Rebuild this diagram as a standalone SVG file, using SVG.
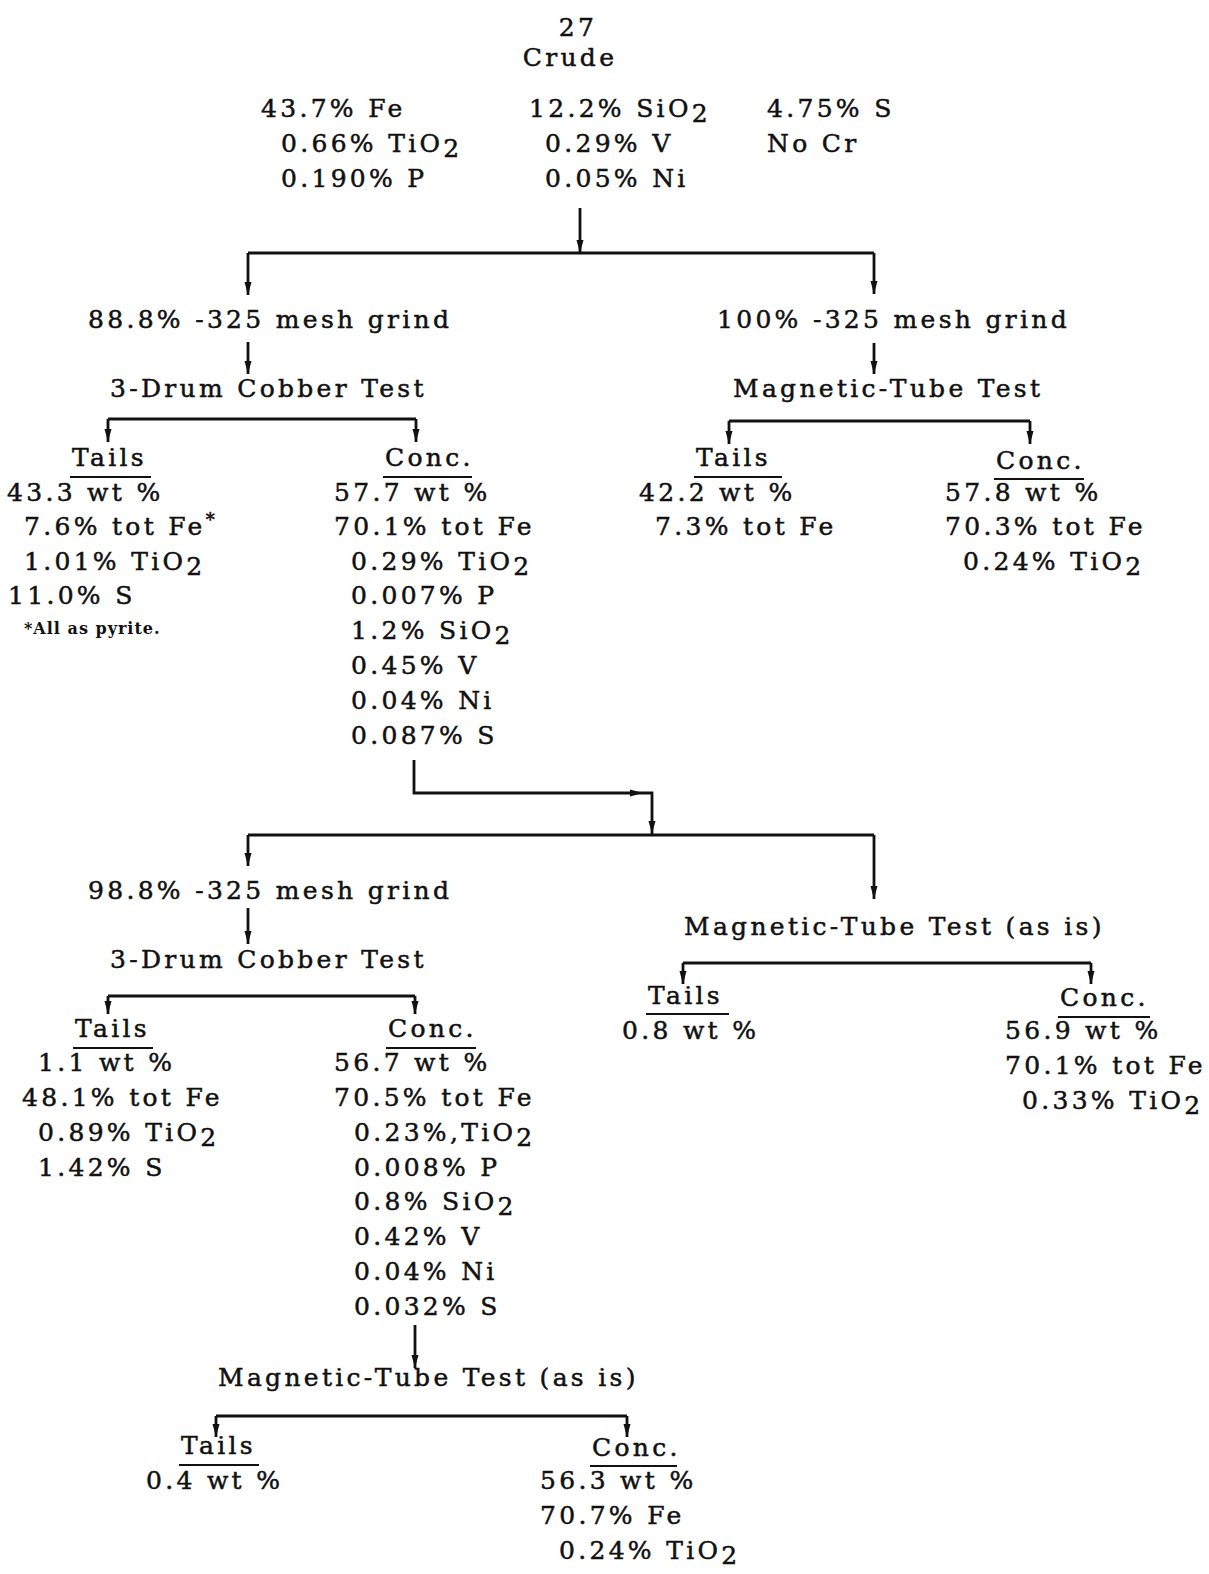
<svg xmlns="http://www.w3.org/2000/svg" width="1209" height="1574" viewBox="0 0 1209 1574">
<defs>
<marker id="ah" viewBox="0 -4 13 8" refX="13" refY="0" markerWidth="13" markerHeight="8" markerUnits="userSpaceOnUse" orient="auto">
<path d="M0,-3.5 L13,0 L0,3.5 z" fill="#111"/>
</marker>
<style>
.t{font-family:"DejaVu Serif","Liberation Serif",serif;font-size:25px;letter-spacing:3.3px;fill:#111;stroke:#111;stroke-width:0.5px}
.s{font-family:"DejaVu Serif","Liberation Serif",serif;font-size:16px;font-weight:bold;letter-spacing:1px;fill:#111}
.c{fill:none;stroke:#111;stroke-width:2.8}
.a{fill:none;stroke:#111;stroke-width:2.8;marker-end:url(#ah)}
.u{stroke:#111;stroke-width:2.2}
</style>
</defs>
<rect width="1209" height="1574" fill="#fff"/>

<g id="connectors">
<path class="a" d="M580,208 V253"/>
<path class="c" d="M248,253 H874"/>
<path class="a" d="M248,253 V295"/>
<path class="a" d="M874,253 V294"/>
<path class="a" d="M248,342 V374"/>
<path class="a" d="M874,343 V374"/>
<path class="c" d="M108,419 H416"/>
<path class="a" d="M108,419 V442"/>
<path class="a" d="M416,419 V442"/>
<path class="c" d="M729,421 H1030"/>
<path class="a" d="M729,421 V444"/>
<path class="a" d="M1030,421 V444"/>
<path class="a" d="M414,760 V793 H643"/>
<path class="a" d="M643,793 H652 V834"/>
<path class="c" d="M248,835 H874"/>
<path class="a" d="M248,835 V866"/>
<path class="a" d="M874,835 V899"/>
<path class="a" d="M248,908 V944"/>
<path class="c" d="M108,996 H415"/>
<path class="a" d="M108,996 V1014"/>
<path class="a" d="M415,996 V1014"/>
<path class="c" d="M683,963 H1091"/>
<path class="a" d="M683,963 V984"/>
<path class="a" d="M1091,963 V984"/>
<path class="a" d="M415,1325 V1368"/>
<path class="c" d="M216,1416 H627"/>
<path class="a" d="M216,1416 V1437"/>
<path class="a" d="M627,1416 V1437"/>
</g>

<g id="page-number"><text class="t" x="578" y="36" text-anchor="middle">27</text></g>

<g id="crude">
<text class="t" x="570" y="66" text-anchor="middle">Crude</text>
<text class="t" x="261" y="117">43.7% Fe</text>
<text class="t" x="281" y="152">0.66% TiO<tspan dy="5">2</tspan></text>
<text class="t" x="281" y="187">0.190% P</text>
<text class="t" x="529" y="117">12.2% SiO<tspan dy="5">2</tspan></text>
<text class="t" x="545" y="152">0.29% V</text>
<text class="t" x="545" y="187">0.05% Ni</text>
<text class="t" x="767" y="117">4.75% S</text>
<text class="t" x="767" y="152">No Cr</text>
</g>

<g id="grind1"><text class="t" x="88" y="328">88.8% -325 mesh grind</text></g>
<g id="grind2"><text class="t" x="717" y="328">100% -325 mesh grind</text></g>
<g id="cobber1"><text class="t" x="110" y="397">3-Drum Cobber Test</text></g>
<g id="magtube1"><text class="t" x="733" y="397">Magnetic-Tube Test</text></g>

<g id="tails1">
<text class="t" x="72" y="466">Tails</text>
<line class="u" x1="70" y1="477" x2="151" y2="477"/>
<text class="t" x="7" y="501">43.3 wt %</text>
<text class="t" x="24" y="535">7.6% tot Fe<tspan dy="-9" font-size="18">*</tspan></text>
<text class="t" x="24" y="570">1.01% TiO<tspan dy="5">2</tspan></text>
<text class="t" x="8" y="604">11.0% S</text>
<text class="s" x="24" y="634">*All as pyrite.</text>
</g>

<g id="conc1">
<text class="t" x="385" y="466">Conc.</text>
<line class="u" x1="383" y1="477" x2="472" y2="477"/>
<text class="t" x="334" y="501">57.7 wt %</text>
<text class="t" x="334" y="535">70.1% tot Fe</text>
<text class="t" x="351" y="570">0.29% TiO<tspan dy="5">2</tspan></text>
<text class="t" x="351" y="604">0.007% P</text>
<text class="t" x="351" y="639">1.2% SiO<tspan dy="5">2</tspan></text>
<text class="t" x="351" y="674">0.45% V</text>
<text class="t" x="351" y="709">0.04% Ni</text>
<text class="t" x="351" y="744">0.087% S</text>
</g>

<g id="tails2">
<text class="t" x="696" y="466">Tails</text>
<line class="u" x1="694" y1="477" x2="782" y2="477"/>
<text class="t" x="639" y="501">42.2 wt %</text>
<text class="t" x="655" y="535">7.3% tot Fe</text>
</g>

<g id="conc2">
<text class="t" x="996" y="469">Conc.</text>
<line class="u" x1="994" y1="479" x2="1084" y2="479"/>
<text class="t" x="945" y="501">57.8 wt %</text>
<text class="t" x="945" y="535">70.3% tot Fe</text>
<text class="t" x="963" y="570">0.24% TiO<tspan dy="5">2</tspan></text>
</g>

<g id="grind3"><text class="t" x="88" y="899">98.8% -325 mesh grind</text></g>
<g id="cobber2"><text class="t" x="110" y="968">3-Drum Cobber Test</text></g>
<g id="magtube2"><text class="t" x="684" y="935">Magnetic-Tube Test (as is)</text></g>

<g id="tails3">
<text class="t" x="75" y="1037">Tails</text>
<line class="u" x1="73" y1="1048" x2="153" y2="1048"/>
<text class="t" x="38" y="1071">1.1 wt %</text>
<text class="t" x="22" y="1106">48.1% tot Fe</text>
<text class="t" x="38" y="1141">0.89% TiO<tspan dy="5">2</tspan></text>
<text class="t" x="38" y="1176">1.42% S</text>
</g>

<g id="conc3">
<text class="t" x="388" y="1037">Conc.</text>
<line class="u" x1="386" y1="1048" x2="476" y2="1048"/>
<text class="t" x="334" y="1071">56.7 wt %</text>
<text class="t" x="334" y="1106">70.5% tot Fe</text>
<text class="t" x="354" y="1141">0.23%,TiO<tspan dy="5">2</tspan></text>
<text class="t" x="354" y="1176">0.008% P</text>
<text class="t" x="354" y="1210">0.8% SiO<tspan dy="5">2</tspan></text>
<text class="t" x="354" y="1245">0.42% V</text>
<text class="t" x="354" y="1280">0.04% Ni</text>
<text class="t" x="354" y="1315">0.032% S</text>
</g>

<g id="tails4">
<text class="t" x="648" y="1004">Tails</text>
<line class="u" x1="646" y1="1014" x2="729" y2="1014"/>
<text class="t" x="622" y="1039">0.8 wt %</text>
</g>

<g id="conc4">
<text class="t" x="1060" y="1006">Conc.</text>
<line class="u" x1="1058" y1="1017" x2="1150" y2="1017"/>
<text class="t" x="1005" y="1039">56.9 wt %</text>
<text class="t" x="1005" y="1074">70.1% tot Fe</text>
<text class="t" x="1022" y="1109">0.33% TiO<tspan dy="5">2</tspan></text>
</g>

<g id="magtube3"><text class="t" x="218" y="1386">Magnetic-Tube Test (as is)</text></g>

<g id="tails5">
<text class="t" x="181" y="1454">Tails</text>
<line class="u" x1="179" y1="1465" x2="259" y2="1465"/>
<text class="t" x="146" y="1489">0.4 wt %</text>
</g>

<g id="conc5">
<text class="t" x="592" y="1456">Conc.</text>
<line class="u" x1="590" y1="1466" x2="677" y2="1466"/>
<text class="t" x="540" y="1489">56.3 wt %</text>
<text class="t" x="540" y="1524">70.7% Fe</text>
<text class="t" x="559" y="1559">0.24% TiO<tspan dy="5">2</tspan></text>
</g>
</svg>
